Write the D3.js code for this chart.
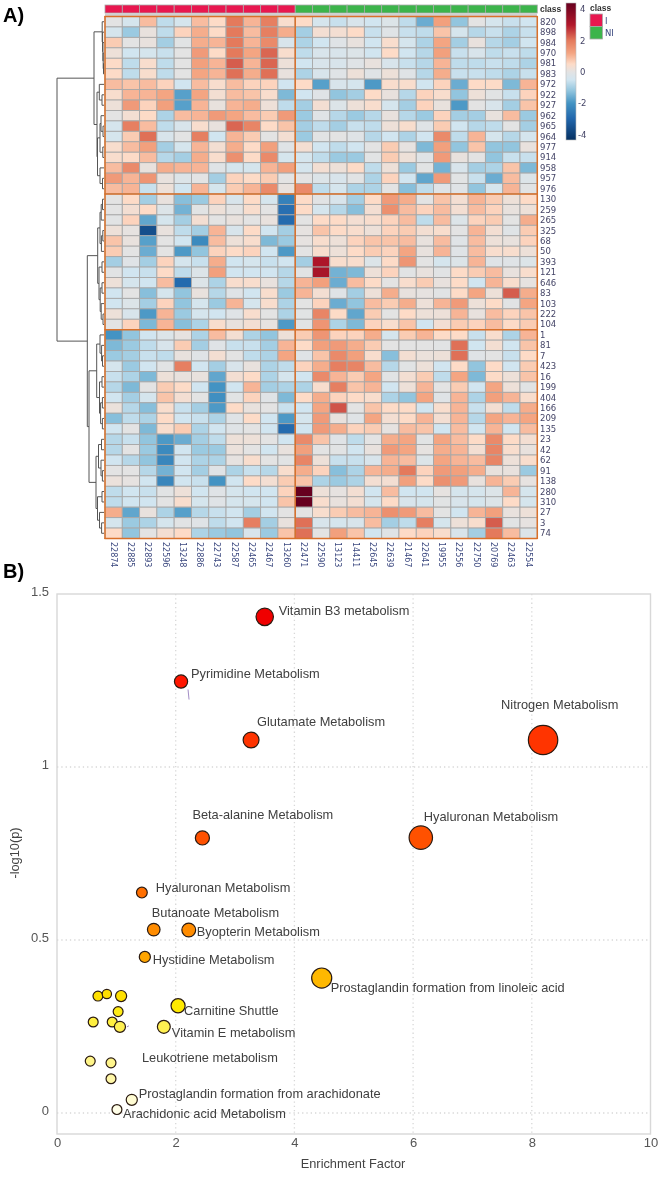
<!DOCTYPE html>
<html>
<head>
<meta charset="utf-8">
<script src="https://cdn.jsdelivr.net/npm/d3@7"></script>
<style>
  html, body { margin: 0; padding: 0; background: #fff; }
  svg { display: block; font-family: "Liberation Sans", Arial, sans-serif; filter: blur(0.3px); }
</style>
</head>
<body>
<svg id="chart" width="661" height="1180"></svg>
<script>
const colLabels = ["22874","22885","22893","22596","13248","22886","22743","22587","22465","22467","13260",
  "22471","22590","13123","14411","22645","22639","21467","22641","19955","22556","22750","20769","22463","22554"];
const colClass = ["I","I","I","I","I","I","I","I","I","I","I",
  "NI","NI","NI","NI","NI","NI","NI","NI","NI","NI","NI","NI","NI","NI"];
const rowLabels = ["820","898","984","970","981","983","972","922","927","962","965","964","977","914","958","957","976",
  "130","259","265","325","68","50","393","121","646","83","103","222","104",
  "1","81","7","423","16","199","404","166","209","135","23","42","62","91","138","280","310","27","3","74"];
const rowBreaks = [0, 17, 30, 50];
const colBreaks = [0, 11, 25];

const heat = [
  [0,-.4,.9,-.7,-.4,.9,.5,2,1,1.9,.4,.5,-.4, -.6,-.3,-.5,-.2,-.7,-1.6,1.3,-1.2,0,-.4,-.6,-.5],
  [-.4,-1.1,.1,-.7,.6,1.1,.5,2,.9,1.9,1.1,-1,.3, .3,.5,-.6,-.1,-.6,-.7,.8,-.4,-.8,-.6,-.9,-.6],
  [.7,0,.1,-1,-.05,1.1,1,2,1,1.7,-.3,-.9,-.5, -.1,.1,-.5,.4,-.4,-.9,1.2,-1,.1,-.8,-1,-.5],
  [.2,-.5,-.4,-.6,0,1.4,.5,2,1.2,2.2,.4,-.7,-.3, -.3,-.2,-.5,.5,-.5,-.8,1.3,-.6,-.3,-.7,-.6,-.7],
  [.5,-.7,.4,-.7,0,1.3,1,2.3,1,2.2,.2,-.5,-.3, -.3,-.1,.1,-.3,-.6,-.8,1,-.7,-.7,-.6,-.7,-.9],
  [.5,-.7,.4,-.7,0,1.2,1,2.1,1.1,2.1,.1,-.9,-.3, -.1,.2,-.1,.2,-.1,-.8,1.1,-.6,-.6,-.7,-.9,-.6],
  [.9,.8,.9,.6,-.5,.9,.4,.9,.6,.6,-.5,.5,-1.8, -.3,-.4,-1.9,.4,.4,-.5,.6,-1.6,.5,.5,-1.4,1],
  [.4,1,1,1.2,-1.8,1.2,.3,.9,.8,.4,-1.4,-.5,-.1, -1.2,-1,.5,.1,-.8,.6,.4,-1.2,.2,-.05,-.6,.6],
  [.2,1.4,.6,1.3,-1.8,1,.1,1,1.1,.2,-.7,-1,.3, -.2,.2,.4,-.4,-1,.6,.1,-1.9,0,-.3,-1,.8],
  [0,.3,.5,-.9,.9,1,1.4,1.2,.9,.7,1.4,-1.1,-.1, -.8,-1.1,-.8,.1,-.8,-1.1,.6,-1,-1,.1,.9,-1.1],
  [-.4,1.9,.9,-.7,-.3,.4,.1,2.2,1.8,.5,.8,-1,-.7, -1,-.6,-.7,.2,.4,-.1,.7,-.5,-.8,-.7,0,-1],
  [-.4,.7,2.1,-.3,0,1.9,-.5,1,.7,0,.3,-1.1,-.05, 0,-.1,-.8,-.5,-.9,-.5,1.7,-.7,1,-.4,-.8,-.4],
  [.4,.9,1.3,-1,-.4,1,.3,1.1,.5,1.3,-.1,.3,-.5, -.7,-.5,0,.7,.05,-1.4,1.3,-1.2,.8,-1.2,-1.2,.1],
  [.4,.5,.9,-.8,-1,1.1,.4,1.6,.5,1.7,-.4,-.4,-.7, -1.1,-1.1,-.05,.7,.2,-.1,1.4,.1,0,-1.2,-.6,-.6],
  [.9,1.7,.1,1.1,1,1,-.1,-.4,-.4,1,1.3,-.4,.3, .2,.5,-.7,.2,-1.1,-.05,-1.5,-.3,-1,-.9,.8,-1.4],
  [1.4,1,1.5,.1,-.2,0,-1,.6,.5,.7,0,0,-.2, -.3,-.05,-.9,.6,-.5,-1.7,1.4,-.05,-.6,-1.6,.9,-.2],
  [.9,1,-.6,.2,-.5,1,-.4,.7,1,1.7,.1,1.7,-.7, -.4,-.9,-.9,0,-1.3,-.7,-.1,-.1,-1.2,-.4,1,-.05],
  [0,.5,-1,.1,-1.3,-1.1,.6,-.3,.5,-.4,-2.4,.5,-.05, -.3,-1,.5,1.4,1.1,0,.8,.3,1,.7,.2,.5],
  [0,.3,.5,-.2,-1.5,-.05,.2,0,.4,0,-2.8,.5,-.4, -.8,-1.3,.3,1.6,.9,.6,.9,.3,.9,.6,.1,.2],
  [-.05,.6,-1.7,-.4,-1,.3,0,.1,0,.1,-2.9,0,.5, .5,.3,.4,.6,.9,-.7,.9,-.2,.6,.7,0,1.1],
  [.2,.05,-3.6,.1,-.7,-1,1,-.3,.5,-.5,-1,.05,.8, .5,.4,.2,.6,.7,.3,.4,0,1,.3,-.1,.7],
  [.8,.1,-1.8,0,-.5,-2.2,.9,.2,.4,-1.4,-1.1,.05,.4, .2,.6,.8,.8,.9,.1,.9,-.1,.9,.2,.1,.6],
  [.7,0,-1.6,0,-1.9,-1.2,.6,.5,.6,-.5,-1.9,0,.4, .2,.5,.7,.6,1.2,.1,1,-.1,.9,.4,.4,.2],
  [-1,-.1,-1,.6,-.4,-.6,1.1,-.5,-.4,-.6,-.5,-1,3.1, .4,.4,-.2,.5,1.5,0,-.4,-.2,1,-.1,-.1,-.2],
  [-.05,-.5,-.6,.5,-.7,-.2,1.3,-.5,-.5,-.5,-.8,-.05,3.2, -1.5,-1.4,.2,.6,-.05,.1,-.05,.5,.7,.9,.1,.4],
  [.2,-.4,-.5,.9,-2.9,-.2,-.9,.4,.4,.1,-.8,1,1.3, -1.6,.9,.5,0,.4,.7,.1,.5,-.5,1,.4,.05],
  [-.5,0,-1.3,-.4,-1.2,.1,-.8,-.1,-.5,.4,-1.1,1,.3, -.1,-1,.2,1.1,.1,.05,-.05,.5,1.2,.2,2.3,1.1],
  [-.5,-.2,-1,.6,-1.2,-.4,-1.1,1,-.4,.4,-.9,0,.6, -1.6,-1.2,.9,.7,1.1,.2,1,1.4,.2,.5,-.05,1.2],
  [.2,-.3,-1.9,1,-1.1,-.4,-.5,-.1,.4,0,-.9,-.05,1.8, .5,-1.7,.7,0,.5,.2,.2,1,.1,.9,.6,.8],
  [0,.6,-1.4,1,-1.3,-.9,.4,.1,.3,.05,-1.9,-.05,1.5, -.9,-1.4,.6,.4,.8,-.5,.3,.7,.6,.9,.5,.7],
  [-2,-1.2,-.5,-.2,.05,-.9,.9,.3,-.9,-1.2,.2,.7,1.5, .6,.6,1.1,-.4,.7,1,.5,.5,-.6,.4,-.9,1],
  [-1.4,-1.1,-.7,-.3,.7,-1,-.1,-.6,-.6,-1,1,.5,1.3, 1.4,1.1,.7,0,0,0,-.05,2.1,-.5,.3,-.5,.8],
  [-1.1,-1,-.6,-.7,.1,-.1,.3,0,-.7,-.9,1.2,-.1,.8, 1.7,1.3,.4,-1.3,.3,.15,.2,2.1,-.1,0,-.6,.5],
  [-.4,-1.1,-.5,-.05,1.9,-.5,-1,-.3,.1,-.9,-.7,.6,1.1, 1.9,1.8,.9,-.8,-.05,.2,-.5,.5,-1.2,.5,-.5,.7],
  [-.6,-.9,-1.4,.2,.1,.1,-1.7,.3,.5,-.9,-.4,-.5,1.7, 1,.7,1.2,-.05,.3,.7,-.7,1.2,-1.4,.5,.2,.8],
  [-.8,-1.4,0,.7,.5,-.5,-2,-.5,1,-1,-.9,-.9,.4, 1.9,.8,1,-.5,.2,1,0,.7,-.5,1.2,.2,-.05],
  [-.5,-1,-.4,.8,.3,0,-2.1,-.05,.6,-.1,-1.4,.5,1.1, .6,.5,.4,-.9,-1.2,1.2,-.1,1,-.9,1.3,1,.4],
  [.15,-.8,-1.3,.4,-.6,-1,-1.9,.5,.1,0,-.6,-.5,1.2, 2.4,0,.8,.5,.5,-.5,.4,1,-.6,.3,-.7,1.1],
  [-1.3,-.7,-.9,.5,-.5,-.6,-.9,-.1,.5,-.5,-1.9,-.4,1.4, .1,-.1,1.2,.3,.5,1,.3,1,-.8,1.2,1,1.2],
  [-.5,0,-1.4,.4,.7,-.9,-.5,-.1,0,-.5,-2.9,-.5,1.4, 1.1,.6,.7,.05,.9,.8,-.5,.9,-.5,1,-.5,.9],
  [-.8,-.6,-1.2,-1.9,-1.6,-1,-.7,.2,.2,0,-.5,1.7,.8, -.1,-.7,0,1.1,1.2,-.05,1.2,.9,.5,1.7,.5,.3],
  [-.8,0,-1.1,-2.2,-.5,-1.1,-1.1,.15,0,-.5,.1,1.3,0, -.05,-.5,.1,1.4,1.2,.05,1.1,1,.3,1.8,.4,.1],
  [-.5,-.8,-1.2,-2.3,-.5,-.9,-.9,.05,.4,0,-.05,1.8,.2, -.6,-.6,-.3,1,.9,-.2,1.2,1,.9,1.8,.2,.4],
  [0,0,-.8,-1.5,-.5,-1,-.1,-.9,-.6,-.8,.4,1.1,.6, -1.3,-.9,1,1.1,2,.6,1.4,1.3,1.1,.1,.1,-1.1],
  [.15,.05,-.5,-2.3,-.5,-.6,-2,-.5,.5,.3,.7,.8,-.9, -1.1,-.9,.3,.3,1.3,.5,1.6,1.4,.1,1,.7,.05],
  [-.7,-.5,-.6,-.05,.2,-.5,-.1,-.4,-.5,-.5,.6,4.4,.2, .05,.3,-.5,.9,-.5,-.5,.05,-.4,-.4,-.2,1,-.4],
  [-.7,-.5,-.5,0,.4,-.4,-.1,-.4,-.4,-.5,.8,4.4,.4, .1,.3,-.4,.5,-.3,-.4,-.05,-.3,-.4,-.2,.5,-.4],
  [1.1,-1.7,.1,-.9,-1.8,-.8,-.6,-.5,-1,-.5,0,0,.4, .7,.9,1,1.6,1.4,.9,0,-.5,1,1.3,.1,.2],
  [-.4,-1.1,-.9,-.4,-.05,-.1,-.7,-.5,1.9,-1,.1,2.1,-.3, -.4,-.3,.9,-1,-.7,1.9,-.4,.2,.4,2.3,-.05,.05],
  [.5,-1.2,0,.3,.5,-.9,-1.1,-1.2,-.3,-1.1,.8,2.1,0, 1.3,.8,-.5,-.1,.5,.6,.4,-.3,-1,2,.9,-.2]
];

// dendrogram: [height, left, right], numbers are row indexes
const cluster1 = [10,
  [1.8, 0, [1.4, 1, [1.1, 2, [.8, 3, [.5, 4, 5]]]]],
  [7,
    [4.7, 6, [2, 7, 8]],
    [6.5,
      [4, [3, 9, [1, 10, 11]], [1.2, 12, 13]],
      [4, 14, [1.5, 15, 16]]]]];
const cluster2 = [6.3,
  [4,
    [2.8, [1.5, 17, 18], 19],
    [2.6, [1.2, 20, 21], 22]],
  [5,
    [2, 23, 24],
    [3.8, [2, 25, 26], [2.8, 27, [1, 28, 29]]]]];
const cluster3 = [15,
  [7.3,
    [4, 30, [2.4, 31, [1.5, 32, 33]]],
    [4.5, [2, 34, 35], [3.4, [1.6, 36, 37], [1.6, 38, 39]]]],
  [8,
    [5.5, [2.5, 40, 41], [3, 42, [1.6, 43, 44]]],
    [6.5, [2, 45, 46], [4.5, 47, [2.4, 48, 49]]]]];
const dendro = [47, cluster1, [16.7, cluster2, cluster3]];

const heatStops = [-4.4,-3,-2,-1.2,-.5,0,.5,1.2,2,3,4.4];
const heatColors = ["#053061","#2166ac","#4393c3","#92c5de","#d1e5f0","#e3e3e3","#fddbc7","#f4a582","#e47a5c","#b2182b","#67001f"];
const legendTicks = [4,2,0,-2,-4];

// pathway bubble plot
const pointNames = ["Vitamin B3 metabolism","Pyrimidine Metabolism","Glutamate Metabolism","Nitrogen Metabolism",
  "Hyaluronan Metabolism","Beta-alanine Metabolism","Hyaluronan Metabolism","Butanoate Metabolism","Byopterin Metabolism",
  "Hystidine Metabolism","Prostaglandin formation from linoleic acid","","","","Carnitine Shuttle","","","","",
  "Vitamin E metabolism","","Leukotriene metabolism","","Prostaglandin formation from arachidonate","Arachidonic acid Metabolism"];
const enrichment = [3.5,2.09,3.27,8.19,6.13,2.45,1.43,1.63,2.22,1.48,4.46,.69,.84,1.08,2.04,1.03,.61,.93,1.06,1.8,.56,.91,.91,1.26,1.01];
const logP = [1.434,1.247,1.078,1.078,.796,.795,.637,.53,.529,.451,.39,.338,.344,.338,.31,.293,.263,.263,.249,.249,.15,.145,.099,.038,.01];
const impact = [.58,.44,.53,.98,.78,.47,.36,.42,.46,.37,.67,.33,.31,.37,.47,.33,.33,.33,.37,.43,.33,.33,.33,.37,.33];
const labelDx = [14,10,6,-42,3,-10,14,-2,8,8,9,0,0,0,6,0,0,0,0,8,0,31,0,7,6];
const labelDy = [-6,-7.5,-18,-35,-21,-23,-5,-17,2,3,10,0,0,0,5,0,0,0,0,6,0,-5,0,-6,4];
const xTicks = [0,2,4,6,8,10];
const yTicks = [0,.5,1,1.5];
const bubbleStops = [0,.1,.25,.31,.35,.39,.45,.53,.64,.8,1.08,1.25,1.43];
const bubbleColors = ["#ffffef","#fff7a6","#fff050","#ffea00","#ffdc00","#ffb800","#ffa500","#ff8c00","#ff6e00","#ff5000","#ff3400","#ff1500","#f00000"];

const svg = d3.select("#chart");

const heatColor = d3.scaleLinear().domain(heatStops).range(heatColors).clamp(true);
const xCol = d3.scaleBand().domain(d3.range(colLabels.length)).range([105, 537.3]);
const yRow = d3.scaleBand().domain(d3.range(rowLabels.length)).range([16.5, 538.5]);
const classColor = d3.scaleOrdinal().domain(["I","NI"]).range(["#e8174f","#3cb44b"]);

svg.append("text").attr("x", 3).attr("y", 22).attr("font-size", 20).attr("font-weight", "bold").text("A)");
svg.append("text").attr("x", 3).attr("y", 578).attr("font-size", 20).attr("font-weight", "bold").text("B)");

// class strip
svg.append("g").selectAll("rect").data(colClass).join("rect")
  .attr("x", (d, i) => xCol(i))
  .attr("y", 5)
  .attr("width", xCol.bandwidth())
  .attr("height", 8)
  .attr("fill", d => classColor(d))
  .attr("stroke", "#aaa")
  .attr("stroke-width", .8);
svg.append("rect").attr("x", 105).attr("y", 13).attr("width", 432).attr("height", 3.5).attr("fill", "#d0d0d0");
svg.append("text").attr("x", 540).attr("y", 12).attr("font-size", 8.5).attr("font-weight", "bold").attr("fill", "#333").text("class");

// heat cells
svg.append("g").selectAll("g").data(heat).join("g")
  .attr("transform", (d, i) => `translate(0,${yRow(i)})`)
  .selectAll("rect").data(d => d).join("rect")
  .attr("x", (d, i) => xCol(i))
  .attr("width", xCol.bandwidth())
  .attr("height", yRow.bandwidth())
  .attr("fill", d => heatColor(d))
  .attr("stroke", "#a8a8a8")
  .attr("stroke-width", .9);

// orange cluster frame
const frame = svg.append("g").attr("stroke", "#d9702a").attr("stroke-width", 1.5).attr("fill", "none");
rowBreaks.forEach(function (r) {
  const y = r == rowLabels.length ? yRow.range()[1] : yRow(r);
  frame.append("line").attr("x1", 104.5).attr("x2", 537.5).attr("y1", y).attr("y2", y);
});
colBreaks.forEach(function (c) {
  const x = c == colLabels.length ? xCol.range()[1] : xCol(c);
  frame.append("line").attr("x1", x).attr("x2", x).attr("y1", 16).attr("y2", 539);
});

svg.append("g").selectAll("text").data(rowLabels).join("text")
  .attr("x", 540)
  .attr("y", (d, i) => yRow(i) + yRow.bandwidth() / 2 + 3)
  .attr("font-size", 8.5)
  .attr("font-family", "'DejaVu Sans', sans-serif")
  .attr("fill", "#444466")
  .text(d => d);

svg.append("g").selectAll("text").data(colLabels).join("text")
  .attr("transform", (d, i) => `translate(${xCol(i) + xCol.bandwidth() / 2 - 3},542) rotate(90)`)
  .attr("font-size", 8)
  .attr("font-family", "'DejaVu Sans', sans-serif")
  .attr("fill", "#3d4a80")
  .text(d => d);

// dendrogram
const xHeight = d3.scaleLinear().domain([0, 47]).range([104, 57]);
const dendroLines = [];
function layoutNode(node) {
  if (typeof node == "number") {
    return { y: yRow(node) + yRow.bandwidth() / 2, h: 0 };
  }
  const a = layoutNode(node[1]);
  const b = layoutNode(node[2]);
  const x = xHeight(node[0]);
  dendroLines.push(`M${xHeight(a.h)},${a.y}H${x}V${b.y}H${xHeight(b.h)}`);
  return { y: (a.y + b.y) / 2, h: node[0] };
}
layoutNode(dendro);
svg.append("g").selectAll("path").data(dendroLines).join("path")
  .attr("d", d => d)
  .attr("fill", "none")
  .attr("stroke", "#555")
  .attr("stroke-width", 1);

// colour key
const keyY = d3.scaleLinear().domain([4.4, -4.35]).range([3, 140]);
const defs = svg.append("defs");
const grad = defs.append("linearGradient").attr("id", "key").attr("x1", 0).attr("x2", 0).attr("y1", 0).attr("y2", 1);
heatStops.slice().reverse().forEach(function (v) {
  grad.append("stop")
    .attr("offset", Math.max(0, Math.min(1, (keyY(v) - 3) / 137)))
    .attr("stop-color", heatColor(v));
});
svg.append("rect").attr("x", 566).attr("y", 3).attr("width", 10).attr("height", 137)
  .attr("fill", "url(#key)").attr("stroke", "#bbb").attr("stroke-width", .6);
svg.append("g").selectAll("text").data(legendTicks).join("text")
  .attr("x", d => d < 0 ? 578 : 580)
  .attr("y", d => keyY(d) + 3)
  .attr("font-size", 8.5)
  .attr("font-family", "'DejaVu Sans', sans-serif")
  .attr("fill", "#444466")
  .text(d => d);

svg.append("text").attr("x", 590).attr("y", 11).attr("font-size", 8.5).attr("font-weight", "bold").attr("fill", "#333").text("class");
const classKey = svg.append("g").selectAll("g").data(classColor.domain()).join("g")
  .attr("transform", (d, i) => `translate(590,${14 + i * 12.5})`);
classKey.append("rect").attr("width", 12.5).attr("height", 12.5)
  .attr("fill", d => classColor(d)).attr("stroke", "#aaa").attr("stroke-width", .8);
classKey.append("text").attr("x", 15).attr("y", 9.5)
  .attr("font-size", 8.5)
  .attr("font-family", "'DejaVu Sans', sans-serif")
  .attr("fill", "#3d4a80")
  .text(d => d);

// bubble plot
const x = d3.scaleLinear().domain([0, 10]).range([57, 650.5]);
const y = d3.scaleLinear().domain([0, 1.5]).range([1113, 594]);
const plotBottom = 1134;
const radius = d3.scaleLinear().domain([0, 1]).range([0, 15]);
const bubbleColor = d3.scaleLinear().domain(bubbleStops).range(bubbleColors);

const grid = svg.append("g").attr("stroke", "#d8d8d8").attr("stroke-width", 1.3).attr("stroke-dasharray", "1.3 3");
grid.selectAll("line.v").data(xTicks.slice(1, -1)).join("line").attr("class", "v")
  .attr("x1", d => x(d)).attr("x2", d => x(d)).attr("y1", y(1.5)).attr("y2", plotBottom);
grid.selectAll("line.h").data(yTicks.slice(0, -1)).join("line").attr("class", "h")
  .attr("x1", x(0)).attr("x2", x(10)).attr("y1", d => y(d)).attr("y2", d => y(d));

svg.append("rect")
  .attr("x", x(0)).attr("y", y(1.5))
  .attr("width", x(10) - x(0)).attr("height", plotBottom - y(1.5))
  .attr("fill", "none").attr("stroke", "#d8d8d8").attr("stroke-width", 1.4);

const xAxis = svg.append("g")
  .attr("transform", `translate(0,${plotBottom})`)
  .call(d3.axisBottom(x).tickValues(xTicks).tickFormat(d3.format("d")).tickSize(0).tickPadding(4));
const yAxis = svg.append("g")
  .attr("transform", `translate(${x(0)},-3)`)
  .call(d3.axisLeft(y).tickValues(yTicks).tickFormat(d => d).tickSize(0).tickPadding(8));
xAxis.select(".domain").remove();
yAxis.select(".domain").remove();
xAxis.selectAll("text").attr("font-size", 13).attr("font-family", "'Liberation Sans', Arial, sans-serif").attr("fill", "#555");
yAxis.selectAll("text").attr("font-size", 13).attr("font-family", "'Liberation Sans', Arial, sans-serif").attr("fill", "#555");

svg.append("text").attr("x", 353).attr("y", 1168).attr("text-anchor", "middle").attr("font-size", 12.8).attr("fill", "#444").text("Enrichment Factor");
svg.append("text").attr("transform", "translate(19,853) rotate(-90)").attr("text-anchor", "middle").attr("font-size", 12.8).attr("fill", "#444").text("-log10(p)");

const points = d3.range(enrichment.length).map(i => ({
  name: pointNames[i], ex: enrichment[i], lp: logP[i], imp: impact[i], dx: labelDx[i], dy: labelDy[i]
}));

svg.append("g").selectAll("circle").data(points).join("circle")
  .attr("cx", d => x(d.ex))
  .attr("cy", d => y(d.lp))
  .attr("r", d => radius(d.imp))
  .attr("fill", d => bubbleColor(d.lp))
  .attr("stroke", "#2a1a10")
  .attr("stroke-width", 1.2);

svg.append("g").selectAll("text").data(points.filter(d => d.name)).join("text")
  .attr("x", d => x(d.ex) + d.dx)
  .attr("y", d => y(d.lp) + d.dy + 4)
  .attr("font-size", 12.8)
  .attr("fill", "#404040")
  .text(d => d.name);

// stray leader marks next to two of the labels
const strayMarks = [[1, 7, 8, 8, 18], [18, 7, 0, 9, -1]];
svg.append("g").selectAll("line").data(strayMarks).join("line")
  .attr("x1", d => x(enrichment[d[0]]) + d[1])
  .attr("y1", d => y(logP[d[0]]) + d[2])
  .attr("x2", d => x(enrichment[d[0]]) + d[3])
  .attr("y2", d => y(logP[d[0]]) + d[4])
  .attr("stroke", "#8a70b8")
  .attr("stroke-width", .8);
</script>
</body>
</html>
